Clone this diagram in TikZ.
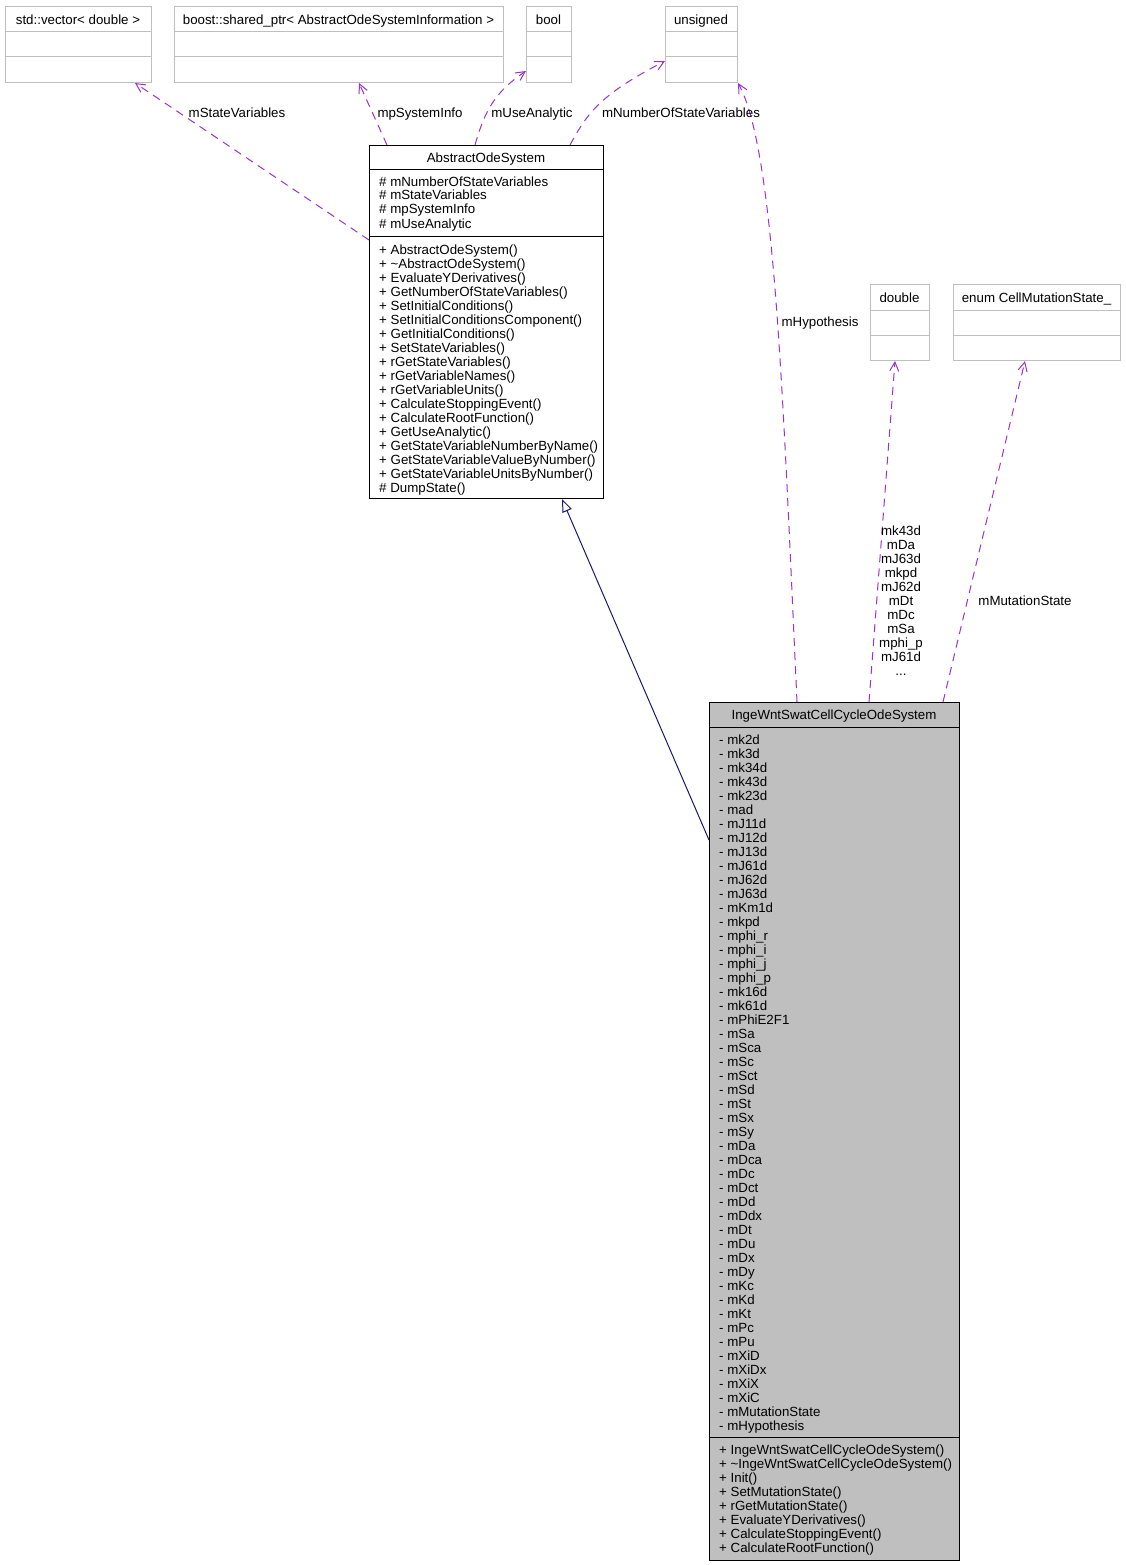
\documentclass[tikz,border=0pt]{standalone}
\usepackage{fontspec}
\setmainfont{Liberation Sans}
\usetikzlibrary{arrows.meta}
\definecolor{purp}{HTML}{9A32CD}
\definecolor{navyb}{HTML}{191970}
\definecolor{lgray}{HTML}{BFBFBF}
\begin{document}
\begin{tikzpicture}[x=1pt,y=-1pt,
  font=\fontsize{13.3}{14}\selectfont,
  extbox/.style={draw=lgray, line width=1pt, inner sep=0pt, anchor=north west},
  mainbox/.style={draw=black, line width=1pt, inner sep=0pt, anchor=north west},
  extline/.style={draw=lgray, line width=1pt},
  mainline/.style={draw=black, line width=1pt},
  txt/.style={inner sep=0pt, anchor=base west},
  ttl/.style={inner sep=0pt, anchor=base},
  dep/.style={draw=purp, line width=1pt, dash pattern=on 8pt off 6pt,
    -{Straight Barb[length=9pt,width=9pt]}},
  inh/.style={draw=navyb, line width=1pt,
    -{Triangle[open,fill=white,length=13pt,width=10pt]}},
  lbl/.style={inner sep=0pt, anchor=base}]

\useasboundingbox (0,0) rectangle (1125,1565);

% ---------- external types ----------
\node[extbox, minimum width=146pt, minimum height=76pt] (vec) at (5,6) {};
\draw[extline] (5,32) -- (151,32) (5,57) -- (151,57);
\node[ttl] (vect) at (78,25) {std::vector< double >};

\node[extbox, minimum width=329pt, minimum height=76pt] (boost) at (174,6) {};
\draw[extline] (174,32) -- (503,32) (174,57) -- (503,57);
\node[ttl] (boostt) at (338.5,25) {boost::shared\_ptr< AbstractOdeSystemInformation >};

\node[extbox, minimum width=45pt, minimum height=76pt] (bool) at (526,6) {};
\draw[extline] (526,32) -- (571,32) (526,57) -- (571,57);
\node[ttl] (boolt) at (548.5,25) {bool};

\node[extbox, minimum width=72pt, minimum height=76pt] (uns) at (665,6) {};
\draw[extline] (665,32) -- (737,32) (665,57) -- (737,57);
\node[ttl] (unst) at (701,25) {unsigned};

\node[extbox, minimum width=59pt, minimum height=76pt] (dbl) at (870,284) {};
\draw[extline] (870,310) -- (929,310) (870,335) -- (929,335);
\node[ttl] (dblt) at (899.5,302) {double};

\node[extbox, minimum width=167pt, minimum height=76pt] (enum) at (953,284) {};
\draw[extline] (953,310) -- (1120,310) (953,335) -- (1120,335);
\node[ttl] (enumt) at (1036.5,302) {enum CellMutationState\_};

% ---------- AbstractOdeSystem ----------
\node[mainbox, fill=white, minimum width=234pt, minimum height=353pt] (aos) at (369,145) {};
\draw[mainline] (369,170) -- (603,170) (369,236) -- (603,236);
\node[ttl] (aost) at (486,162.5) {AbstractOdeSystem};
\foreach \t [count=\i from 0] in {\# mNumberOfStateVariables, \# mStateVariables,
  \# mpSystemInfo, \# mUseAnalytic}
  \node[txt] (aosa\i) at (379,{186+14*\i}) {\t};
\foreach \t [count=\i from 0] in {+ AbstractOdeSystem(), + \textasciitilde{}AbstractOdeSystem(),
  + EvaluateYDerivatives(), + GetNumberOfStateVariables(), + SetInitialConditions(),
  + SetInitialConditionsComponent(), + GetInitialConditions(), + SetStateVariables(),
  + rGetStateVariables(), + rGetVariableNames(), + rGetVariableUnits(),
  + CalculateStoppingEvent(), + CalculateRootFunction(), + GetUseAnalytic(),
  + GetStateVariableNumberByName(), + GetStateVariableValueByNumber(),
  + GetStateVariableUnitsByNumber(), \# DumpState()}
  \node[txt] (aosm\i) at (379,{254+14*\i}) {\t};

% ---------- IngeWntSwatCellCycleOdeSystem ----------
\node[mainbox, fill=lgray, minimum width=250pt, minimum height=858pt] (inge) at (709,702) {};
\draw[mainline] (709,727) -- (959,727) (709,1437) -- (959,1437);
\node[ttl] (inget) at (834,719) {IngeWntSwatCellCycleOdeSystem};
\foreach \t [count=\i from 0] in {- mk2d, - mk3d, - mk34d, - mk43d, - mk23d, - mad,
  - mJ11d, - mJ12d, - mJ13d, - mJ61d, - mJ62d, - mJ63d, - mKm1d, - mkpd,
  - mphi\_r, - mphi\_i, - mphi\_j, - mphi\_p, - mk16d, - mk61d, - mPhiE2F1,
  - mSa, - mSca, - mSc, - mSct, - mSd, - mSt, - mSx, - mSy, - mDa, - mDca,
  - mDc, - mDct, - mDd, - mDdx, - mDt, - mDu, - mDx, - mDy, - mKc, - mKd,
  - mKt, - mPc, - mPu, - mXiD, - mXiDx, - mXiX, - mXiC, - mMutationState,
  - mHypothesis}
  \node[txt] (ingea\i) at (719,{744+14*\i}) {\t};
\foreach \t [count=\i from 0] in {+ IngeWntSwatCellCycleOdeSystem(),
  + \textasciitilde{}IngeWntSwatCellCycleOdeSystem(), + Init(), + SetMutationState(),
  + rGetMutationState(), + EvaluateYDerivatives(), + CalculateStoppingEvent(),
  + CalculateRootFunction()}
  \node[txt] (ingem\i) at (719,{1454+14*\i}) {\t};

% ---------- connectors ----------
\draw[inh] ([yshift=-138pt]inge.north west) -- ([xshift=193pt]aos.south west);

\draw[dep] ([yshift=-95pt]aos.north west) -- ([xshift=130pt]vec.south west);
\draw[dep] ([xshift=18pt]aos.north west) -- ([xshift=185pt]boost.south west);
\draw[dep] ([xshift=106pt]aos.north west) .. controls (485,110) and (495,92) .. ([yshift=12pt]bool.south west);
\draw[dep] ([xshift=201pt]aos.north west) .. controls (588,112) and (600,95) .. ([yshift=22pt]uns.south west);
\draw[dep] ([xshift=88pt]inge.north west) .. controls (783,400) and (775,150) .. (uns.south east);
\draw[dep] ([xshift=160pt]inge.north west) -- ([xshift=25pt]dbl.south west);
\draw[dep] ([xshift=234pt]inge.north west) -- ([xshift=72pt]enum.south west);

% ---------- labels ----------
\node[lbl] (l1) at (237,118) {mStateVariables};
\node[lbl] (l2) at (420,118) {mpSystemInfo};
\node[lbl] (l3) at (532,118) {mUseAnalytic};
\node[lbl] (l4) at (681,118) {mNumberOfStateVariables};
\node[lbl] (l5) at (820,326) {mHypothesis};
\node[lbl] (l6) at (1025,605) {mMutationState};
\foreach \t [count=\i from 0] in {mk43d, mDa, mJ63d, mkpd, mJ62d, mDt, mDc, mSa,
  mphi\_p, mJ61d}
  \node[lbl] (lm\i) at (901,{535+14*\i}) {\t};
\node[lbl] (lmdots) at (901,675) {...};
\end{tikzpicture}
\end{document}
